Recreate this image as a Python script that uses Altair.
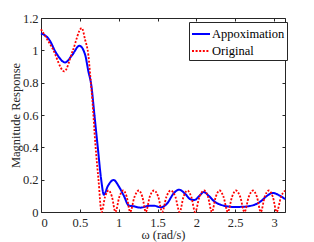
import altair as alt
import pandas as pd

# ---- data ----
approx_x = [0.0, 0.1, 0.2, 0.31, 0.4, 0.495, 0.568, 0.61, 0.646, 0.69, 0.73, 0.775,
            0.81, 0.86, 0.935, 1.0, 1.07, 1.13, 1.2, 1.28, 1.39, 1.455, 1.54, 1.63,
            1.70, 1.78, 1.86, 1.92, 1.975, 2.04, 2.095, 2.16, 2.23, 2.34, 2.49, 2.62,
            2.75, 2.83, 2.91, 2.985, 3.06, 3.1416]
approx_y = [1.105, 1.07, 0.98, 0.925, 0.97, 1.028, 0.973, 0.87, 0.79, 0.59, 0.405, 0.2,
            0.107, 0.16, 0.198, 0.16, 0.097, 0.04, 0.035, 0.027, 0.038, 0.039, 0.029, 0.056,
            0.11, 0.138, 0.11, 0.08, 0.074, 0.1, 0.123, 0.1, 0.066, 0.041, 0.031, 0.033,
            0.045, 0.066, 0.1, 0.118, 0.105, 0.08]

orig_x = [0.0, 0.15, 0.30, 0.41, 0.525, 0.568, 0.61, 0.64, 0.66, 0.70, 0.74, 0.78,
          0.825, 0.87, 0.914, 0.958,
          1.009, 1.06, 1.104, 1.148,
          1.204, 1.26, 1.305, 1.35,
          1.40, 1.455, 1.51, 1.56,
          1.615, 1.67, 1.73, 1.785,
          1.835, 1.885, 1.935, 1.985,
          2.04, 2.10, 2.15, 2.20,
          2.25, 2.30, 2.35, 2.405,
          2.46, 2.51, 2.565, 2.62,
          2.675, 2.73, 2.78, 2.83,
          2.88, 2.935, 2.985, 3.035,
          3.09, 3.1416]
orig_y = [1.13, 1.01, 0.87, 1.0, 1.138, 1.065, 0.97, 0.81, 0.70, 0.42, 0.2, 0.0,
          0.094, 0.133, 0.094, 0.0,
          0.094, 0.133, 0.094, 0.0,
          0.094, 0.133, 0.094, 0.0,
          0.094, 0.133, 0.094, 0.0,
          0.094, 0.133, 0.094, 0.0,
          0.094, 0.133, 0.094, 0.0,
          0.094, 0.133, 0.094, 0.0,
          0.094, 0.133, 0.094, 0.0,
          0.094, 0.133, 0.094, 0.0,
          0.094, 0.133, 0.094, 0.0,
          0.094, 0.133, 0.094, 0.0,
          0.094, 0.133]

series_names = ["Appoximation", "Original"]
series_colors = ["#0000ff", "#ff0000"]
x_ticks = [0, 0.5, 1, 1.5, 2, 2.5, 3]
y_ticks = [0, 0.2, 0.4, 0.6, 0.8, 1.0, 1.2]
x_domain = [0, 3.1416]
y_domain = [0, 1.2]

df = pd.concat([
    pd.DataFrame({"x": approx_x, "y": approx_y, "series": series_names[0], "order": range(len(approx_x))}),
    pd.DataFrame({"x": orig_x, "y": orig_y, "series": series_names[1], "order": range(len(orig_x))}),
])

W, H = 244, 194
FONT = "Liberation Serif"
FS = 12.5
AX = "#262626"

xs = alt.Scale(domain=x_domain, nice=False, zero=False)
ys = alt.Scale(domain=y_domain, nice=False, zero=False)

main = alt.Chart(df).mark_line(interpolate="monotone", strokeCap="butt").encode(
    x=alt.X("x:Q", scale=xs, axis=alt.Axis(
        orient="bottom", values=x_ticks, format="~g", ticks=False, tickSize=0,
        labelPadding=4, domain=True, domainColor=AX, domainWidth=1, grid=False,
        labelFont=FONT, labelFontSize=FS, labelColor=AX,
        title="ω (rad/s)", titleFont=FONT, titleFontSize=FS, titleFontWeight="normal",
        titleColor=AX, titlePadding=0)),
    y=alt.Y("y:Q", scale=ys, axis=alt.Axis(
        orient="left", values=y_ticks, format="~g", ticks=False, tickSize=0,
        labelPadding=3, domain=True, domainColor=AX, domainWidth=1, grid=False,
        labelFont=FONT, labelFontSize=FS, labelColor=AX,
        title="Magnitude Response", titleFont=FONT, titleFontSize=FS,
        titleFontWeight="normal", titleColor=AX, titlePadding=0)),
    color=alt.Color("series:N", scale=alt.Scale(domain=series_names, range=series_colors),
                    legend=alt.Legend(title=None, orient="none", legendX=148, legendY=4,
                                      fillColor="white", strokeColor=AX, padding=2,
                                      symbolType="stroke", symbolSize=324, symbolStrokeWidth=2,
                                      labelFont=FONT, labelFontSize=FS, labelColor="black",
                                      labelOffset=1, rowPadding=0)),
    strokeDash=alt.StrokeDash("series:N", scale=alt.Scale(domain=series_names, range=[[1, 0], [2, 1.6]]),
                              legend=alt.Legend(title=None, orient="none", legendX=148, legendY=4)),
    strokeWidth=alt.StrokeWidth("series:N", scale=alt.Scale(domain=series_names, range=[2, 1.8]), legend=None),
    order="order:Q",
)

ticks_b = alt.Chart(df).mark_line(strokeOpacity=0).encode(
    x=alt.X("x:Q", scale=xs, axis=alt.Axis(
        orient="top", offset=-H, values=x_ticks, labels=False, domain=False, grid=False,
        ticks=True, tickSize=3, tickColor=AX, title=None)),
    y=alt.Y("y:Q", scale=ys, axis=alt.Axis(
        orient="right", offset=-W, values=y_ticks, labels=False, domain=False, grid=False,
        ticks=True, tickSize=3, tickColor=AX, title=None)),
    detail="series:N",
)

ticks_c = alt.Chart(df).mark_line(strokeOpacity=0).encode(
    x=alt.X("x:Q", scale=xs, axis=alt.Axis(
        orient="bottom", offset=-H, values=x_ticks, labels=False, domain=True, domainColor=AX,
        grid=False, ticks=True, tickSize=3, tickColor=AX, title=None)),
    y=alt.Y("y:Q", scale=ys, axis=alt.Axis(
        orient="left", offset=-W, values=y_ticks, labels=False, domain=True, domainColor=AX,
        grid=False, ticks=True, tickSize=3, tickColor=AX, title=None)),
    detail="series:N",
)

chart = alt.layer(main, ticks_b, ticks_c).resolve_axis(
    x="independent", y="independent"
).properties(
    width=W, height=H,
    autosize=alt.AutoSizeParams(type="none"),
    padding={"left": 33, "top": 10, "right": 21, "bottom": 30},
    background="white",
).configure_view(stroke=None)

chart.save("out.html", embed_options={"renderer": "svg", "actions": False})
